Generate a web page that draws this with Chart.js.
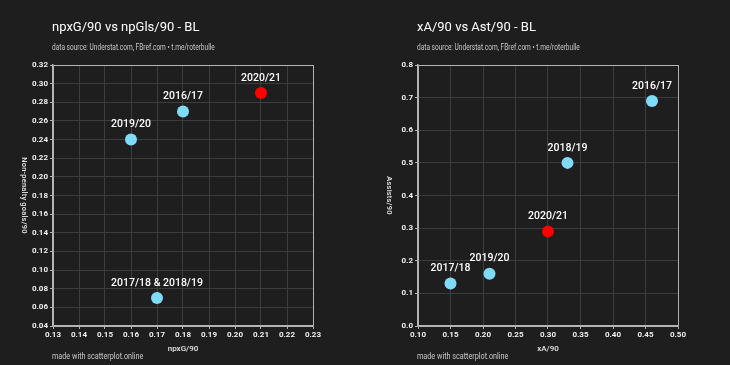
<!DOCTYPE html>
<html>
<head>
<meta charset="utf-8">
<script src="https://cdn.jsdelivr.net/npm/chart.js@4/dist/chart.umd.min.js"></script>
<style>
html,body{margin:0;padding:0;background:#1e1e1e;}
body{width:730px;height:365px;overflow:hidden;position:relative;font-family:Roboto,"Noto Sans",sans-serif;}
.panel{position:absolute;top:0;width:365px;height:365px;}
.panel canvas{position:absolute;left:0;top:0;}
.title{position:absolute;left:52px;top:19px;font-size:13px;color:#fff;white-space:nowrap;}
.sub{position:absolute;left:52px;top:42px;font-size:8.2px;color:#c8c8c8;white-space:nowrap;transform:scaleX(0.8);transform-origin:0 0;}
.foot{position:absolute;left:52px;top:351px;font-size:8.5px;color:#c8c8c8;white-space:nowrap;transform:scaleX(0.85);transform-origin:0 0;}
</style>
</head>
<body>
<div class="panel" style="left:0">
  <canvas id="c1" width="365" height="365"></canvas>
  <div class="title">npxG/90 vs npGls/90 - BL</div>
  <div class="sub">data source: Understat.com, FBref.com • t.me/roterbulle</div>
  <div class="foot">made with scatterplot.online</div>
</div>
<div class="panel" style="left:365px">
  <canvas id="c2" width="365" height="365"></canvas>
  <div class="title">xA/90 vs Ast/90 - BL</div>
  <div class="sub">data source: Understat.com, FBref.com • t.me/roterbulle</div>
  <div class="foot">made with scatterplot.online</div>
</div>
<script>
// ---- Chart 1 data ----
const labels1 = ["2019/20", "2016/17", "2020/21", "2017/18 & 2018/19"];
const npxG = [0.16, 0.18, 0.21, 0.17];
const npGls = [0.24, 0.27, 0.29, 0.07];
const highlight1 = [false, false, true, false];

// ---- Chart 2 data ----
const labels2 = ["2016/17", "2018/19", "2020/21", "2017/18", "2019/20"];
const xA = [0.46, 0.33, 0.30, 0.15, 0.21];
const ast = [0.69, 0.50, 0.29, 0.13, 0.16];
const highlight2 = [false, false, true, false, false];

const CYAN = '#7fdcf8';
const RED = '#ff0000';
const GRID = '#3d3d3d';
const EDGE = '#b4b4b4';

const pointLabels = {
  id: 'pointLabels',
  afterDatasetsDraw(chart) {
    const ctx = chart.ctx;
    const ds = chart.data.datasets[0];
    const meta = chart.getDatasetMeta(0);
    ctx.save();
    ctx.font = '500 10.5px Roboto';
    ctx.fillStyle = '#ffffff';
    ctx.textAlign = 'center';
    ctx.textBaseline = 'middle';
    meta.data.forEach((el, i) => {
      ctx.fillText(ds.pointNames[i], el.x, el.y - 15);
    });
    ctx.restore();
  }
};

const yTitle = {
  id: 'yTitle',
  afterDraw(chart, args, opts) {
    const ctx = chart.ctx;
    const a = chart.chartArea;
    ctx.save();
    ctx.translate(opts.x, (a.top + a.bottom) / 2);
    ctx.rotate(Math.PI / 2);
    ctx.font = '500 7.5px Roboto';
    ctx.fillStyle = '#e6e6e6';
    ctx.textAlign = 'center';
    ctx.textBaseline = 'middle';
    ctx.letterSpacing = '0.2px';
    ctx.fillText(opts.text, 0, 0);
    ctx.restore();
  }
};

function makeChart(id, xs, ys, names, hl, xr, yr, xTitle, yTitleText) {
  const data = xs.map((x, i) => ({x: x, y: ys[i]}));
  const colors = hl.map(h => h ? RED : CYAN);
  const edgeColor = (c) => {
    const n = c.chart.scales[c.scale.id].ticks.length;
    return (c.index === 0 || c.index === n - 1) ? EDGE : GRID;
  };
  return new Chart(document.getElementById(id), {
    type: 'scatter',
    data: {
      datasets: [{
        data: data,
        pointNames: names,
        backgroundColor: colors,
        borderColor: colors,
        borderWidth: 0,
        pointRadius: 6,
        pointHoverRadius: 6
      }]
    },
    plugins: [pointLabels, yTitle],
    options: {
      responsive: false,
      animation: false,
      events: [],
      layout: {padding: {left: 0, right: 52, top: 65, bottom: 0}},
      plugins: {
        legend: {display: false},
        tooltip: {enabled: false},
        yTitle: {text: yTitleText, x: 24}
      },
      scales: {
        x: {
          type: 'linear',
          min: xr[0], max: xr[1],
          afterFit: s => { s.height = 39; },
          ticks: {
            stepSize: xr[2],
            color: '#f0f0f0',
            font: {family: 'Roboto', size: 8, weight: 'bold'},
            padding: 1,
            callback: v => v.toFixed(2)
          },
          grid: {color: edgeColor, tickColor: EDGE, tickLength: 3, lineWidth: 1},
          border: {color: EDGE, width: 1.5},
          title: {
            display: true, text: xTitle, color: '#e6e6e6',
            font: {family: 'Roboto', size: 8, weight: '500'},
            padding: {top: 10, bottom: 11}
          }
        },
        y: {
          type: 'linear',
          min: yr[0], max: yr[1],
          afterFit: s => { s.width = 53; },
          ticks: {
            stepSize: yr[2],
            color: '#f0f0f0',
            font: {family: 'Roboto', size: 8, weight: 'bold'},
            padding: 2,
            callback: v => v.toFixed(yr[3])
          },
          grid: {color: edgeColor, tickColor: EDGE, tickLength: 3, lineWidth: 1},
          border: {color: EDGE, width: 1.5}
        }
      }
    }
  });
}

makeChart('c1', npxG, npGls, labels1, highlight1, [0.13, 0.23, 0.01], [0.04, 0.32, 0.02, 2], 'npxG/90', 'Non-penalty goals/90');
makeChart('c2', xA, ast, labels2, highlight2, [0.10, 0.50, 0.05], [0.0, 0.8, 0.1, 1], 'xA/90', 'Assists/90');
</script>
</body>
</html>
